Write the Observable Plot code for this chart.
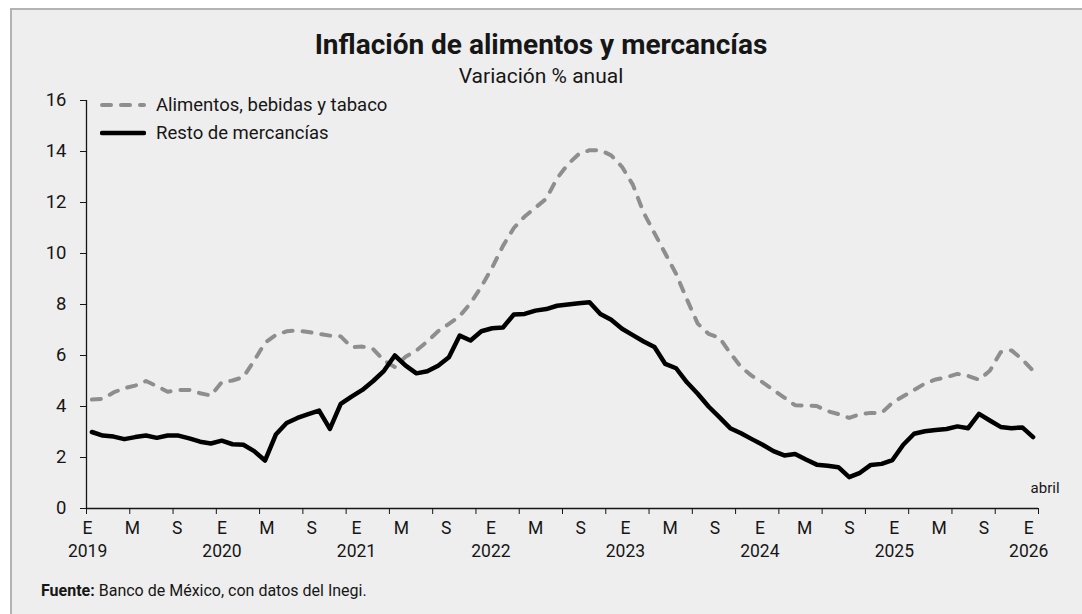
<!DOCTYPE html>
<html>
<head>
<meta charset="utf-8">
<script src="https://cdn.jsdelivr.net/npm/d3@7"></script>
<script src="https://cdn.jsdelivr.net/npm/@observablehq/plot@0.6"></script>
<style>
  html, body { margin: 0; padding: 0; background: #ffffff; }
  body { width: 1082px; height: 614px; overflow: hidden; position: relative; font-family: Roboto, "Open Sans", sans-serif; color: #161616; }
  #frame { position: absolute; left: 10px; top: 8px; width: 1080px; height: 610px; background: #eeeeee; border-top: 2px solid #b3b3b3; border-left: 2px solid #b3b3b3; }
  #title { position: absolute; left: 0; top: 29px; width: 1082px; text-align: center; font-weight: 700; font-size: 28px; line-height: 32px; }
  #subtitle { position: absolute; left: 0; top: 63px; width: 1082px; text-align: center; font-size: 21px; line-height: 26px; }
  #chart { position: absolute; left: 0; top: 0; }
  #legend { position: absolute; left: 100px; top: 91px; font-size: 18.5px; line-height: 28px; }
  #legend .row { display: flex; align-items: center; height: 28px; }
  #legend svg { margin-right: 10px; }
  #caption { position: absolute; left: 41px; top: 581px; font-size: 16px; line-height: 20px; }
</style>
</head>
<body>
<div id="frame"></div>
<div id="title">Inflación de alimentos y mercancías</div>
<div id="subtitle">Variación % anual</div>
<div id="chart"></div>
<div id="legend"></div>
<div id="caption"><b>Fuente:</b> Banco de México, con datos del Inegi.</div>
<script>
// Monthly annual % change, January 2019 to April 2026
const food = [
  4.27, 4.30, 4.55, 4.72, 4.82, 5.00, 4.80, 4.58, 4.65, 4.65, 4.52, 4.43,
  4.95, 5.02, 5.15, 5.80, 6.50, 6.80, 6.95, 6.98, 6.92, 6.85, 6.78, 6.75,
  6.33, 6.35, 6.25, 5.80, 5.55, 5.95, 6.20, 6.55, 6.95, 7.24, 7.55, 8.05,
  8.70, 9.45, 10.30, 11.00, 11.45, 11.80, 12.15, 12.95, 13.50, 13.90, 14.05, 14.05,
  13.85, 13.40, 12.70, 11.60, 10.80, 10.00, 9.20, 8.20, 7.25, 6.85, 6.70, 6.10,
  5.55, 5.20, 4.95, 4.65, 4.35, 4.05, 4.04, 4.02, 3.82, 3.70, 3.55, 3.70,
  3.75, 3.75, 4.15, 4.40, 4.65, 4.90, 5.06, 5.15, 5.28, 5.20, 5.05, 5.40,
  6.13, 6.20, 5.85, 5.40
];
const rest = [
  3.00, 2.86, 2.82, 2.72, 2.80, 2.86, 2.77, 2.86, 2.86, 2.75, 2.62, 2.55,
  2.66, 2.52, 2.50, 2.25, 1.88, 2.90, 3.35, 3.55, 3.70, 3.84, 3.12, 4.10,
  4.39, 4.65, 5.00, 5.40, 6.00, 5.60, 5.30, 5.38, 5.60, 5.93, 6.78, 6.59,
  6.95, 7.07, 7.10, 7.61, 7.63, 7.76, 7.82, 7.95, 8.00, 8.05, 8.09, 7.63,
  7.40, 7.05, 6.80, 6.55, 6.33, 5.67, 5.50, 4.95, 4.50, 4.00, 3.58, 3.15,
  2.95, 2.72, 2.50, 2.25, 2.08, 2.14, 1.92, 1.72, 1.68, 1.62, 1.23, 1.40,
  1.71, 1.75, 1.90, 2.50, 2.93, 3.03, 3.08, 3.12, 3.22, 3.15, 3.71, 3.45,
  3.20, 3.15, 3.18, 2.80
];
const seriesNames = ["Alimentos, bebidas y tabaco", "Resto de mercancías"];
const monthLetters = ["E", "M", "S"];
const years = ["2019", "2020", "2021", "2022", "2023", "2024", "2025", "2026"];
const lastLabel = "abril";
const yTicks = [0, 2, 4, 6, 8, 10, 12, 14, 16];

const n = food.length;
const foodData = food.map((v, i) => ({i, v}));
const restData = rest.map((v, i) => ({i, v}));

// tick marks at category boundaries every 4 months
const tickPos = d3.range(-0.5, n, 4);
// category labels (E, M, S) spread across the categories, like the original axis
const nLabels = (years.length - 1) * 3 + 1;
const labelStep = (n - 1) / (nLabels - 1);
const labelShift = -0.4;
const monthLabels = d3.range(nLabels).map(k => ({pos: k * labelStep + labelShift, text: monthLetters[k % 3]}));
const yearLabels = years.map((y, j) => ({pos: j * 3 * labelStep + labelShift, text: y}));

const chart = Plot.plot({
  width: 1082,
  height: 570,
  marginTop: 100,
  marginBottom: 62,
  marginLeft: 86,
  marginRight: 44,
  style: {background: "transparent", fontFamily: "Roboto, sans-serif", fontSize: "17px", color: "#161616"},
  x: {type: "linear", domain: [-0.5, n - 0.5]},
  y: {domain: [0, 16]},
  marks: [
    Plot.axisY(yTicks, {tickSize: 6, tickPadding: 14, fontSize: 18.5, label: null}),
    Plot.axisX(tickPos, {tickSize: 6, tickFormat: () => "", label: null}),
    Plot.ruleX([-0.5], {y1: 0, y2: 16, stroke: "#161616", strokeWidth: 1.3}),
    Plot.ruleY([0], {x1: -0.5, x2: n - 0.5, stroke: "#161616", strokeWidth: 1.3}),
    Plot.text(monthLabels, {x: "pos", y: () => 0, text: "text", dy: 20, fontSize: 17.5}),
    Plot.text(yearLabels, {x: "pos", y: () => 0, text: "text", dy: 43, fontSize: 17.5}),
    Plot.text([lastLabel], {x: () => n - 1, y: () => 0, text: d => d, dx: 12, dy: -20, fontSize: 15}),
    Plot.line(foodData, {x: "i", y: "v", stroke: "#8e8e8e", strokeWidth: 4, strokeDasharray: "9,10", strokeLinecap: "round", strokeLinejoin: "round"}),
    Plot.line(restData, {x: "i", y: "v", stroke: "#000000", strokeWidth: 4.5, strokeLinecap: "round", strokeLinejoin: "round"})
  ]
});
document.getElementById("chart").appendChild(chart);

// legend
const legend = document.getElementById("legend");
const styles = [
  {stroke: "#8e8e8e", width: 4, dash: "9,10"},
  {stroke: "#000000", width: 4.5, dash: null}
];
seriesNames.forEach((name, k) => {
  const row = document.createElement("div");
  row.className = "row";
  const s = styles[k];
  row.innerHTML = `<svg width="46" height="10"><line x1="2" y1="5" x2="44" y2="5" stroke="${s.stroke}" stroke-width="${s.width}" stroke-linecap="round" ${s.dash ? `stroke-dasharray="${s.dash}"` : ""}/></svg><span>${name}</span>`;
  legend.appendChild(row);
});
</script>
</body>
</html>
